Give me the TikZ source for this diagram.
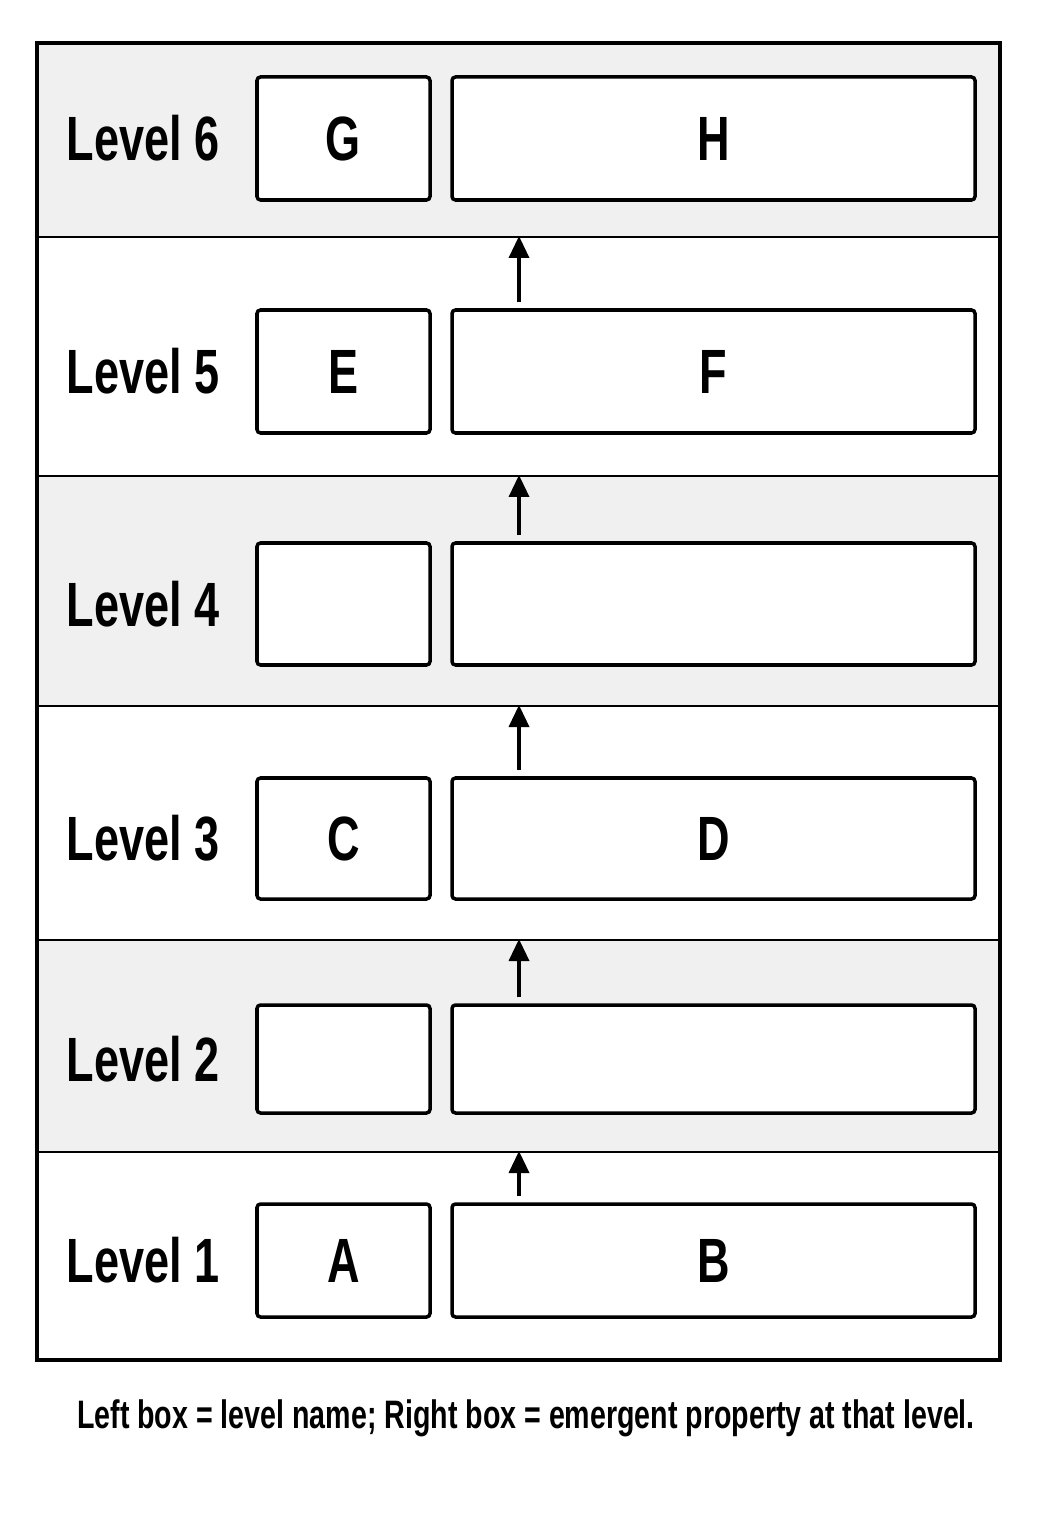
\documentclass[tikz,border=0pt]{standalone}
\usepackage{fontspec}
\newfontfamily\narrowsans{Liberation Sans}[FakeStretch=0.72]
\usetikzlibrary{arrows.meta}
\begin{document}
\begin{tikzpicture}[x=0.1mm,y=-0.1mm,
  levtext/.style={anchor=west,inner sep=0pt,font=\narrowsans\bfseries\fontsize{17.8}{20}\selectfont},
  namebox/.style={draw,line width=1pt,rounded corners=1pt,fill=white,minimum width=17.3mm,
    font=\narrowsans\bfseries\fontsize{17.8}{20}\selectfont},
  propbox/.style={namebox,minimum width=52.3mm},
  up/.style={-{Triangle[length=2.2mm,width=2mm]},line width=1pt,shorten <=0.6mm}]
  \useasboundingbox (0,0) rectangle (1038,1515);
  % bands, bottom level first
  \foreach \lev/\ya/\yb/\ym/\bh/\shade/\lname/\pname in {
      1/1151/1360/1260.5/11.3/white/A/B,
      2/939/1151/1059/10.8/black!6/{}/{},
      3/705/939/838.5/12.1/white/C/D,
      4/475/705/604/12.2/black!6/{}/{},
      5/236/475/371.5/12.3/white/E/F,
      6/43/236/138.5/12.3/black!6/G/H} {
    \fill[\shade] (37,\ya) rectangle (1000,\yb);
    \draw[line width=1pt] (37,\ya) -- (1000,\ya);
    \coordinate (t\lev) at (519,\ya);
    \node[levtext] (lev\lev) at (66,\ym) {Level \lev};
    \node[namebox,minimum height=\bh mm] (l\lev) at (343.5,\ym) {\lname};
    \node[propbox,minimum height=\bh mm] (r\lev) at (713.5,\ym) {\pname};
  }
  \draw[line width=1pt] (37,43) rectangle (1000,1360);
  % arrows to the level above
  \foreach \lev in {1,...,5} \draw[up] (r\lev.north -| t\lev) -- (t\lev);
  \node[font=\narrowsans\bfseries\fontsize{11.3}{13}\selectfont] (note) at (526,1418)
    {Left box = level name; Right box = emergent property at that level.};
\end{tikzpicture}
\end{document}
